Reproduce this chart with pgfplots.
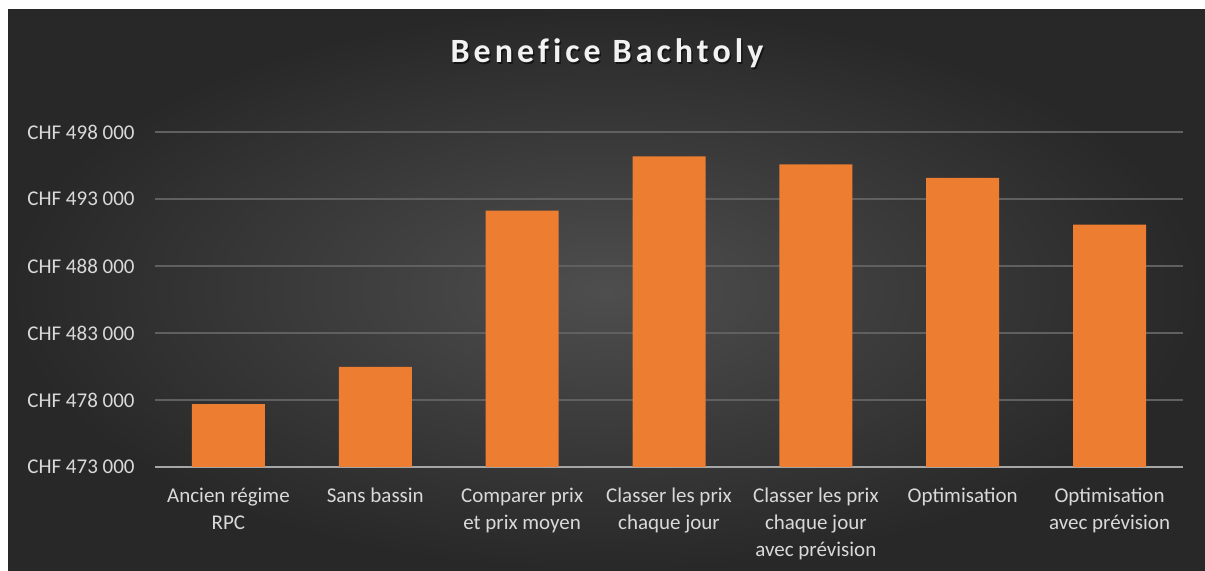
\documentclass[border=0pt]{standalone}
\usepackage{fontspec}
\setmainfont{Carlito}
\usepackage{pgfplots}
\pgfplotsset{compat=1.18}
\definecolor{barorange}{HTML}{ED7D31}
\definecolor{ticktext}{HTML}{D9D9D9}
\definecolor{gridc}{HTML}{606060}
\definecolor{axisc}{HTML}{A6A6A6}
\definecolor{bgin}{HTML}{4E4E4E}
\definecolor{bgout}{HTML}{282828}
\newcommand{\titlefont}{\fontsize{17}{20}\selectfont\bfseries\addfontfeature{LetterSpace=12,Ligatures=NoCommon}}
\begin{document}
\begin{tikzpicture}[x=0.5pt,y=0.5pt]
\fill[white] (0,0) rectangle (1205,571);
\shade[inner color=bgin, outer color=bgout] (8,0) rectangle (1205,561);
\node[text=black,opacity=0.55] at (608.5,516) {\titlefont Benefice Bachtoly};
\node[text={rgb,255:red,242;green,242;blue,242}] at (607,518) {\titlefont Benefice Bachtoly};
\begin{axis}[
  at={(77.5pt,52pt)}, anchor=south west,
  scale only axis, width=514pt, height=167.5pt,
  ybar, bar width=36.5pt,
  xmin=-0.5, xmax=6.5, ymin=473000, ymax=498000,
  scaled y ticks=false,
  xtick=data,
  xticklabels={Ancien régime\\RPC, Sans bassin, Comparer prix\\et prix moyen, Classer les prix\\chaque jour, Classer les prix\\chaque jour\\avec prévision, Optimisation, Optimisation\\avec prévision},
  ytick={473000,478000,483000,488000,493000,498000},
  yticklabels={CHF 473 000,CHF 478 000,CHF 483 000,CHF 488 000,CHF 493 000,CHF 498 000},
  ymajorgrids, major grid style={gridc, line width=0.75pt},
  axis x line*=bottom, axis y line*=left,
  y axis line style={draw=none},
  x axis line style={axisc, line width=1pt, -},
  major tick length=0pt,
  tick style={draw=none},
  yticklabel style={text=ticktext, font=\fontsize{10.5}{12}\selectfont, inner sep=0pt, anchor=east, xshift=-10pt},
  xticklabel style={text=ticktext, font=\fontsize{10.5}{13.5}\selectfont, align=center, inner sep=0pt, anchor=north, yshift=-10.5pt},
  clip=true,
]
\addplot[fill=barorange, draw=none] coordinates {
  (0,477700) (1,480470) (2,492140) (3,496180) (4,495580) (5,494580) (6,491090)
};
\end{axis}
\pgfresetboundingbox
\path (0,0) rectangle (1205,571);
\end{tikzpicture}
\end{document}
